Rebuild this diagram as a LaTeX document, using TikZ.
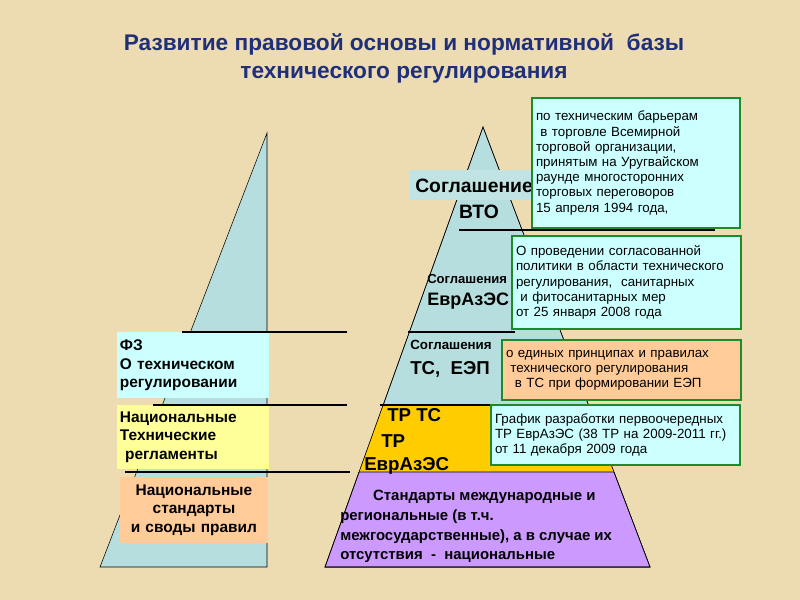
\documentclass[tikz,border=0pt]{standalone}
\usepackage{fontspec}
\setmainfont{Liberation Sans}
\definecolor{bg}{HTML}{EDDCB2}
\definecolor{pblue}{HTML}{B7DEDE}
\definecolor{lcyan}{HTML}{CCFFFF}
\definecolor{lyel}{HTML}{FFFF99}
\definecolor{lora}{HTML}{FFCC99}
\definecolor{gold}{HTML}{FFCC00}
\definecolor{purp}{HTML}{CC99FF}
\definecolor{gbord}{HTML}{1E8B2A}
\definecolor{ttl}{HTML}{1F2F7A}
\tikzset{
 gbox/.style={draw=gbord,line width=1.5pt,anchor=north west,inner sep=3pt,align=left,font=\fontsize{10}{11.4}\selectfont},
 lbox/.style={anchor=north west,inner sep=2pt,align=left,font=\bfseries\fontsize{11.6}{14.2}\selectfont},
 hline/.style={line width=1.2pt},
}
\begin{document}
\begin{tikzpicture}[x=0.75pt,y=-0.75pt]
\fill[bg] (0,0) rectangle (800,600);
\useasboundingbox (0,0) rectangle (800,600);
% left pyramid
\fill[pblue,draw=black,line width=0.4pt] (267,133) -- (267,567) -- (100,567) -- cycle;
\node[lbox,fill=lcyan,text width=146*0.75pt,minimum height=66*0.75pt] (fz) at (117,332) {ФЗ\\О техническом\\регулировании};
\node[lbox,fill=lyel,text width=146*0.75pt,minimum height=64*0.75pt] (nt) at (117,405) {Национальные\\Технические\\\ регламенты};
\node[lbox,fill=lora,text width=142*0.75pt,minimum height=66*0.75pt,align=center] (ns) at (120,477) {Национальные\\стандарты\\и своды правил};
% right pyramid
\fill[pblue,draw=black,line width=0.4pt] (483,127) -- (650,567) -- (325,567) -- cycle;
\fill[gold] (383.2,405) -- (588.5,405) -- (613.9,472) -- (359.1,472) -- cycle;
\fill[purp,draw=black,line width=0.4pt] (359.1,472) -- (613.9,472) -- (650,567) -- (325,567) -- cycle;
\draw[line width=0.4pt] (483,127) -- (650,567) -- (325,567) -- cycle;
% lines
\coordinate (l1a) at (182,332); \coordinate (l1b) at (347,332);
\coordinate (l1c) at (408,332); \coordinate (l1d) at (515,332);
\draw[hline] (l1a) -- (l1b); \draw[hline] (l1c) -- (l1d);
\coordinate (l2a) at (153,405); \coordinate (l2b) at (347,405);
\coordinate (l2c) at (380,405); \coordinate (l2d) at (495,405);
\draw[hline] (l2a) -- (l2b); \draw[hline] (l2c) -- (l2d);
\coordinate (l3a) at (125,472); \coordinate (l3b) at (350,472);
\draw[hline] (l3a) -- (l3b);
\coordinate (l4a) at (459,230); \coordinate (l4b) at (715,230);
\draw[hline] (l4a) -- (l4b);
% pyramid labels
\fill[pblue!85!white] (410,170) rectangle (540,200);
\node[font=\bfseries\fontsize{14.5}{16}\selectfont,anchor=west,inner sep=0pt] (wto1) at (415,186) {Соглашение};
\node[font=\bfseries\fontsize{14.5}{16}\selectfont] (wto2) at (479,212) {ВТО};
\node[font=\bfseries\fontsize{9.8}{10}\selectfont,anchor=west,inner sep=0pt] (ea1) at (427,279) {Соглашения};
\node[font=\bfseries\fontsize{13.5}{14}\selectfont,anchor=west,inner sep=0pt] (ea2) at (427,301) {ЕврАзЭС};
\node[font=\bfseries\fontsize{10}{10}\selectfont,anchor=west,inner sep=0pt] (ts1) at (410,345) {Соглашения};
\node[font=\bfseries\fontsize{14}{14}\selectfont,anchor=west,inner sep=0pt] (ts2) at (410,369) {ТС,\ \ ЕЭП};
\node[font=\bfseries\fontsize{14}{15}\selectfont,anchor=west,inner sep=0pt] (tr1) at (387,415) {ТР ТС};
\node[font=\bfseries\fontsize{14}{15}\selectfont,anchor=west,inner sep=0pt] (tr2) at (381,441) {ТР};
\node[font=\bfseries\fontsize{14}{15}\selectfont,anchor=west,inner sep=0pt] (tr3) at (364,466) {ЕврАзЭС};
\node[anchor=north west,align=left,font=\bfseries\fontsize{11.2}{14.8}\selectfont,inner sep=0pt] (st) at (340,490) {\hspace*{2.2em}Стандарты международные и\\региональные (в т.ч.\\межгосударственные), а в случае их\\отсутствия\ \ -\ \ национальные};
% green boxes
\node[gbox,fill=lcyan,text width=200*0.75pt,minimum height=130*0.75pt] (b1) at (531,97) {по техническим барьерам\\\ в торговле Всемирной\\торговой организации,\\принятым на Уругвайском\\раунде многосторонних\\торговых переговоров\\15 апреля 1994 года,};
\node[gbox,fill=lcyan,text width=221*0.75pt,minimum height=93*0.75pt] (b2) at (511,235) {О проведении согласованной\\политики в области технического\\регулирования,\ \ санитарных\\\ и фитосанитарных\ мер\\от 25 января 2008 года};
\node[gbox,fill=lora,text width=231*0.75pt,minimum height=60*0.75pt] (b3) at (501,339) {о единых принципах и правилах\\\ технического регулирования\\\ \ в ТС при формировании ЕЭП};
\node[gbox,fill=lcyan,text width=241*0.75pt,minimum height=60*0.75pt] (b4) at (490,404) {График разработки первоочередных\\ТР ЕврАзЭС (38 ТР на 2009-2011 гг.)\\от 11 декабря 2009 года};
% title
\node[font=\bfseries\fontsize{17}{21}\selectfont,text=ttl,align=center] (title) at (404,58) {Развитие правовой основы и нормативной\ \ базы\\технического регулирования};
\end{tikzpicture}
\end{document}
